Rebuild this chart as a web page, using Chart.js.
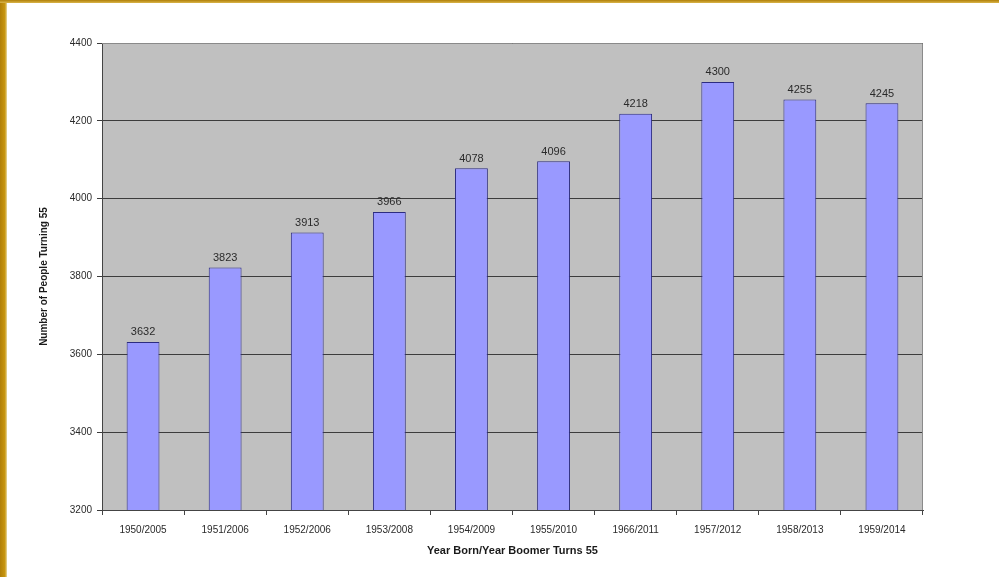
<!DOCTYPE html>
<html>
<head>
<meta charset="utf-8">
<script src="https://cdn.jsdelivr.net/npm/chart.js@4/dist/chart.umd.min.js"></script>
<style>
  html, body { margin: 0; padding: 0; background: #fff; }
  #wrap { position: relative; width: 999px; height: 577px; overflow: hidden; }
  #chart { position: absolute; left: 0; top: 0; }
  .edge-left { position: absolute; left: 0; top: 0; width: 7px; height: 577px; background: linear-gradient(to right, #b07f08, #c8960f 70%, #e8d9a0); }
  .edge-top { position: absolute; left: 0; top: 0; width: 999px; height: 3px; background: linear-gradient(to bottom, #b07f08, #d9b54a); }
</style>
</head>
<body>
<div id="wrap">
  <canvas id="chart" width="999" height="577"></canvas>
  <div class="edge-left"></div>
  <div class="edge-top"></div>
</div>
<script>
const categories = [
  '1950/2005', '1951/2006', '1952/2006', '1953/2008', '1954/2009',
  '1955/2010', '1966/2011', '1957/2012', '1958/2013', '1959/2014',
];
const peopleTurning55 = [3632, 3823, 3913, 3966, 4078, 4096, 4218, 4300, 4255, 4245];
const yTicks = [3200, 3400, 3600, 3800, 4000, 4200, 4400];

const textColor = '#2a2a2a';

// value labels above each bar
const barLabels = {
  id: 'barLabels',
  afterDatasetsDraw(chart) {
    const ctx = chart.ctx;
    const meta = chart.getDatasetMeta(0);
    ctx.save();
    ctx.font = '11px "Liberation Sans", Arial, sans-serif';
    ctx.fillStyle = textColor;
    ctx.textAlign = 'center';
    ctx.textBaseline = 'bottom';
    meta.data.forEach((bar, i) => {
      ctx.fillText(String(peopleTurning55[i]), bar.x, bar.y - 4);
    });
    ctx.restore();
  },
};

// grey plot background + border
const plotFrame = {
  id: 'plotFrame',
  beforeDraw(chart) {
    const { ctx, chartArea: a } = chart;
    ctx.save();
    ctx.fillStyle = '#c0c0c0';
    ctx.fillRect(a.left, a.top, a.right - a.left, a.bottom - a.top);
    ctx.restore();
  },
  afterDraw(chart) {
    const { ctx, chartArea: a } = chart;
    ctx.save();
    ctx.strokeStyle = '#8a8a8a';
    ctx.lineWidth = 1;
    ctx.beginPath();
    ctx.moveTo(a.left, a.top + 0.5);
    ctx.lineTo(a.right - 0.5, a.top + 0.5);
    ctx.lineTo(a.right - 0.5, a.bottom);
    ctx.stroke();
    ctx.restore();
  },
};

new Chart(document.getElementById('chart'), {
  type: 'bar',
  data: {
    labels: categories,
    datasets: [
      {
        data: peopleTurning55,
        backgroundColor: '#9999ff',
        borderColor: '#2c2c80',
        borderWidth: 1,
        barPercentage: 0.4,
        categoryPercentage: 1,
      },
    ],
  },
  options: {
    responsive: false,
    animation: false,
    layout: { padding: { left: 34, top: 43, right: 76, bottom: 15 } },
    plugins: {
      legend: { display: false },
      tooltip: { enabled: false },
    },
    scales: {
      x: {
        afterFit(scale) { scale.height = 52; },
        grid: {
          drawOnChartArea: false,
          drawTicks: true,
          tickLength: 5,
          color: '#444',
          offset: true,
        },
        border: { color: '#444', width: 1 },
        ticks: {
          color: textColor,
          font: { family: '"Liberation Sans", Arial, sans-serif', size: 10 },
          padding: 9,
          maxRotation: 0,
          autoSkip: false,
        },
        title: {
          display: true,
          text: 'Year Born/Year Boomer Turns 55',
          color: '#1a1a1a',
          font: { family: '"Liberation Sans", Arial, sans-serif', size: 11, weight: 'bold' },
          padding: { top: 4 },
        },
      },
      y: {
        min: yTicks[0],
        max: yTicks[yTicks.length - 1],
        afterFit(scale) { scale.width = 68; },
        afterBuildTicks(scale) { scale.ticks = yTicks.map((v) => ({ value: v })); },
        grid: {
          color: '#3c3c3c',
          lineWidth: 1,
          tickLength: 5,
        },
        border: { color: '#444', width: 1 },
        ticks: {
          color: textColor,
          font: { family: '"Liberation Sans", Arial, sans-serif', size: 10 },
          padding: 5,
          callback: (v) => String(v),
        },
        title: {
          display: true,
          text: 'Number of People Turning 55',
          color: '#1a1a1a',
          font: { family: '"Liberation Sans", Arial, sans-serif', size: 10, weight: 'bold' },
          padding: { bottom: 10 },
        },
      },
    },
  },
  plugins: [plotFrame, barLabels],
});
</script>
</body>
</html>
